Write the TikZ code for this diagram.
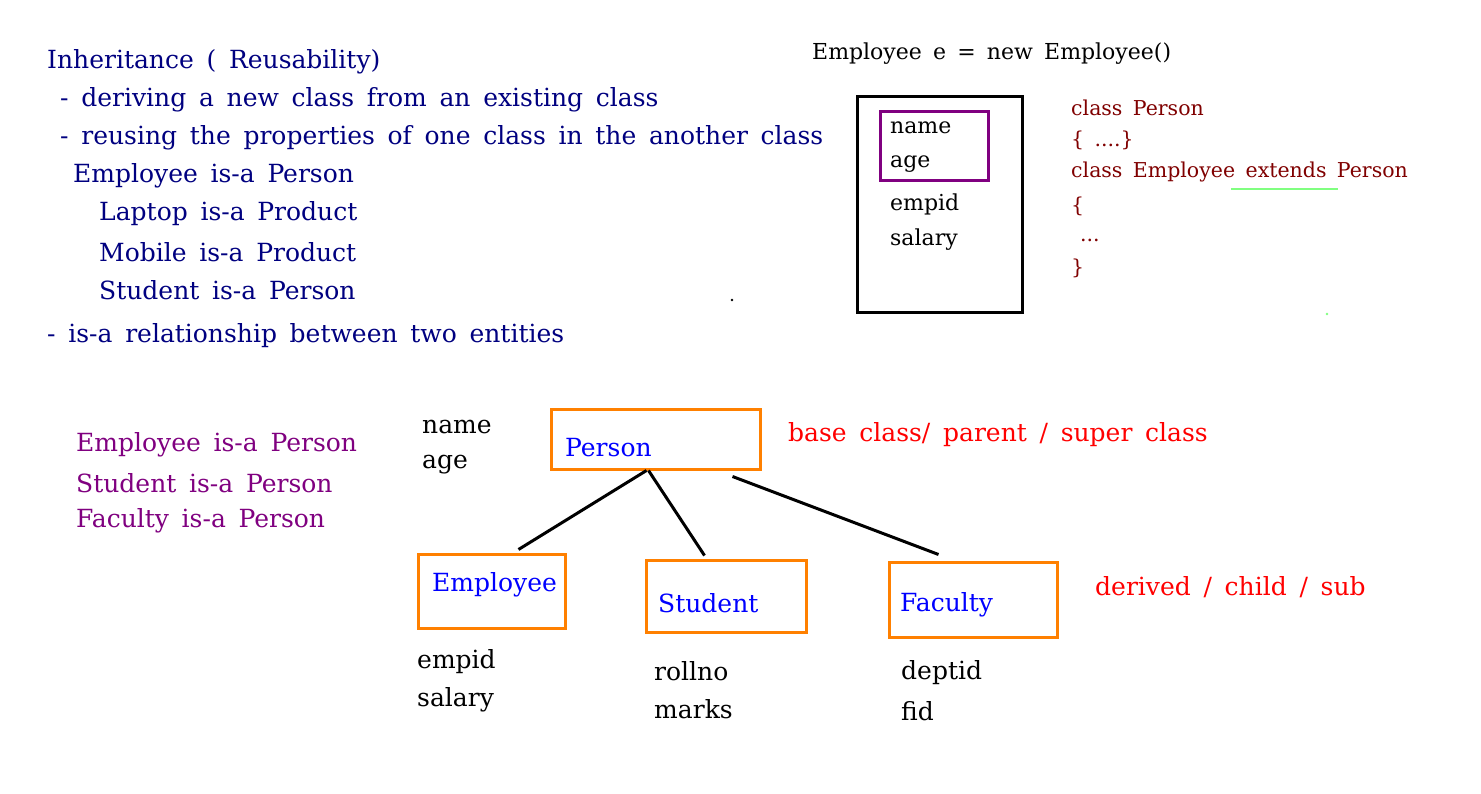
\documentclass[tikz,border=0pt]{standalone}
\usepackage{fontspec}
\setmainfont{DejaVu Serif}[WordSpace=1.6]
\definecolor{navytxt}{RGB}{0,0,128}
\definecolor{codered}{RGB}{128,0,0}
\definecolor{isapurple}{RGB}{128,0,128}
\definecolor{clsorange}{RGB}{255,128,0}
\definecolor{markgreen}{RGB}{128,255,128}
\tikzstyle{txt}=[anchor=west,inner sep=0pt,font=\fontsize{25}{30}\selectfont]
\tikzstyle{sml}=[anchor=west,inner sep=0pt,font=\fontsize{22}{26}\selectfont]
\tikzstyle{code}=[anchor=west,inner sep=0pt,codered,font=\fontsize{20.5}{24}\selectfont]
\tikzstyle{cls}=[draw=clsorange,line width=3pt,inner sep=0pt]
\tikzstyle{link}=[black,line width=3pt]

\begin{document}
\begin{tikzpicture}[x=1pt,y=-1pt]
\useasboundingbox[fill=white] (0,0) rectangle (1481,794);
\node[txt,navytxt] (t1) at (47,62) {Inheritance ( Reusability)};
\node[txt,navytxt] (t2) at (60,100) {- deriving a new class from an existing class};
\node[txt,navytxt] (t3) at (60,138) {- reusing the properties of one class in the another class};
\node[txt,navytxt] (t4) at (73,176) {Employee is-a Person};
\node[txt,navytxt] (t5) at (99,214) {Laptop is-a Product};
\node[txt,navytxt] (t6) at (99,252) {Mobile is-a Product};
\node[txt,navytxt] (t7) at (99,290) {Student is-a Person};
\node[txt,navytxt] (t8) at (47,336) {- is-a relationship between two entities};
\fill[black] (732,300) circle (1.3);
\fill[markgreen] (1327,314) circle (1.3);

\node[sml] (obj) at (812,54) {Employee e = new Employee()};
\node[draw=black,line width=3pt,minimum width=165,minimum height=216,inner sep=0pt] (heap) at (939.5,205) {};
\node[draw=isapurple,line width=3pt,minimum width=108,minimum height=69,inner sep=0pt] (inh) at (934,146.5) {};
\node[sml] (f1) at (890,128) {name}; \node[sml] (f2) at (890,164) {age};
\node[sml] (f3) at (890,204) {empid}; \node[sml] (f4) at (890,240) {salary};
\node[code] (c1) at (1071,108) {class Person};
\node[code] (c2) at (1071,140) {\{ ....\}};
\node[code] (c3) at (1071,172) {class Employee extends Person};
\node[code] (c4) at (1071,206) {\{};
\node[code] (c5) at (1080,240) {...};
\node[code] (c6) at (1071,268) {\}};
\draw[markgreen,line width=2.5pt] (1231,189) -- (1338,189);

\node[txt,isapurple] (r1) at (76,445) {Employee is-a Person};
\node[txt,isapurple] (r2) at (76,483) {Student is-a Person};
\node[txt,isapurple] (r3) at (76,521) {Faculty is-a Person};

\node[cls,minimum width=209,minimum height=60] (person) at (655.5,439) {};
\node[txt,blue] (personlbl) at (565,448) {Person};
\node[txt] (pa1) at (422,427) {name}; \node[txt] (pa2) at (422,465) {age};
\node[txt,red] (base) at (788,435) {base class/ parent / super class};

\node[cls,minimum width=147,minimum height=74] (emp) at (491.5,591) {};
\node[txt,blue] (emplbl) at (432,585) {Employee};
\node[cls,minimum width=160,minimum height=72] (stu) at (726,596) {};
\node[txt,blue] (stulbl) at (658,603) {Student};
\node[cls,minimum width=168,minimum height=75] (fac) at (973,599.5) {};
\node[txt,blue] (faclbl) at (900,605) {Faculty};
\node[txt,red] (derived) at (1095,587) {derived / child / sub};

\node[txt] (e1) at (417,662) {empid}; \node[txt] (e2) at (417,700) {salary};
\node[txt] (s1) at (654,671) {rollno}; \node[txt] (s2) at (654,709) {marks};
\node[txt] (d1) at (901,673) {deptid}; \node[txt] (d2) at (901,711) {fid};

\draw[link] ([xshift=97pt]person.south west) -- ([xshift=102pt,yshift=3pt]emp.north west);
\draw[link] ([xshift=99pt]person.south west) -- ([xshift=60pt,yshift=3pt]stu.north west);
\draw[link] ([xshift=183pt,yshift=-6pt]person.south west) -- ([xshift=51pt,yshift=6pt]fac.north west);
\end{tikzpicture}
\end{document}
